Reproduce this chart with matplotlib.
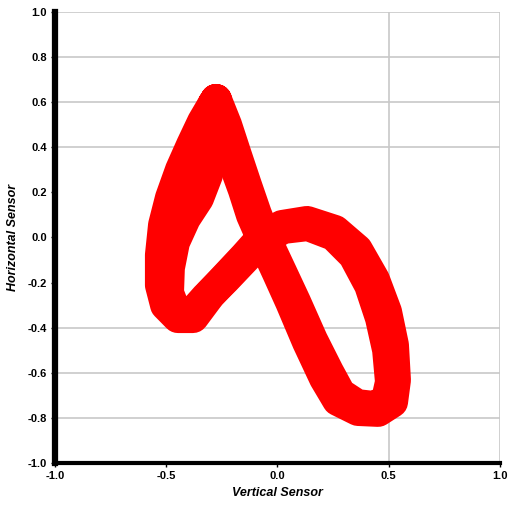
import matplotlib
matplotlib.use("Agg")
import matplotlib.pyplot as plt

# two traced cycles of the sensor loop (vertical, horizontal)
cycle1_x = [-0.285, -0.335, -0.384, -0.434, -0.479, -0.510, -0.524, -0.524, -0.501, -0.447,
            -0.380, -0.303, -0.222, -0.146, -0.070, 0.020, 0.133, 0.258, 0.357, 0.434,
            0.488, 0.519, 0.528, 0.515, 0.452, 0.362, 0.272, 0.213, 0.137, 0.061,
            0.002, -0.056, -0.115, -0.151, -0.200, -0.245, -0.285]
cycle1_y = [0.596, 0.512, 0.410, 0.299, 0.175, 0.055, -0.078, -0.211, -0.299, -0.353,
            -0.353, -0.251, -0.166, -0.086, -0.002, 0.051, 0.069, 0.029, -0.055, -0.188,
            -0.330, -0.477, -0.632, -0.729, -0.769, -0.765, -0.721, -0.623, -0.463, -0.286,
            -0.157, -0.033, 0.100, 0.211, 0.344, 0.477, 0.596]

cycle2_x = [-0.276, -0.285, -0.294, -0.317, -0.357, -0.416, -0.465, -0.488, -0.492, -0.456,
            -0.393, -0.321, -0.236, -0.155, -0.070, 0.025, 0.137, 0.254, 0.344, 0.416,
            0.465, 0.497, 0.510, 0.492, 0.438, 0.357, 0.281, 0.227, 0.155, 0.079,
            0.016, -0.043, -0.097, -0.142, -0.187, -0.231, -0.276]
cycle2_y = [0.610, 0.499, 0.388, 0.277, 0.175, 0.086, -0.020, -0.135, -0.246, -0.339,
            -0.348, -0.268, -0.184, -0.100, -0.011, 0.042, 0.055, 0.011, -0.078, -0.211,
            -0.357, -0.499, -0.641, -0.721, -0.752, -0.743, -0.694, -0.596, -0.455, -0.286,
            -0.153, -0.029, 0.104, 0.233, 0.366, 0.499, 0.610]

x_ticks = [-1.0, -0.5, 0.0, 0.5, 1.0]
y_ticks = [1.0, 0.8, 0.6, 0.4, 0.2, 0.0, -0.2, -0.4, -0.6, -0.8, -1.0]
h_grid = [1.0, 0.8, 0.6, 0.4, -0.4, -0.6, -0.8]
v_grid = [0.5, 1.0]

plt.rcParams["font.family"] = ["Liberation Sans", "DejaVu Sans"]

fig = plt.figure(figsize=(5.1, 5.12), dpi=100)
ax = fig.add_axes([0.1078, 0.0957, 0.8726, 0.8809])

for g in h_grid:
    ax.axhline(g, color="#c8c8c8", lw=1.2, zorder=0)
for g in v_grid:
    ax.axvline(g, color="#c8c8c8", lw=1.2, zorder=0)

for cx, cy in [(cycle1_x, cycle1_y), (cycle2_x, cycle2_y)]:
    ax.plot(cx, cy, color="#ff0000", lw=23, solid_joinstyle="round",
            solid_capstyle="round", zorder=2)

ax.set_xlim(-1.0, 1.0)
ax.set_ylim(-1.0, 1.0)
ax.set_xticks(x_ticks)
ax.set_xticklabels(["%.1f" % v for v in x_ticks])
ax.set_yticks(y_ticks)
ax.set_yticklabels(["%.1f" % v for v in y_ticks])

for side in ["top", "right"]:
    ax.spines[side].set_visible(False)
ax.spines["left"].set_linewidth(4.5)
ax.spines["bottom"].set_linewidth(3)
ax.tick_params(axis="both", length=3, width=1, labelsize=8, pad=3)
for lab in ax.get_xticklabels() + ax.get_yticklabels():
    lab.set_fontweight("bold")

ax.set_xlabel("Vertical Sensor", fontsize=9, fontweight="bold", style="italic", labelpad=4)
ax.set_ylabel("Horizontal Sensor", fontsize=9, fontweight="bold", style="italic", labelpad=6)

fig.savefig("out.png", dpi=100)
